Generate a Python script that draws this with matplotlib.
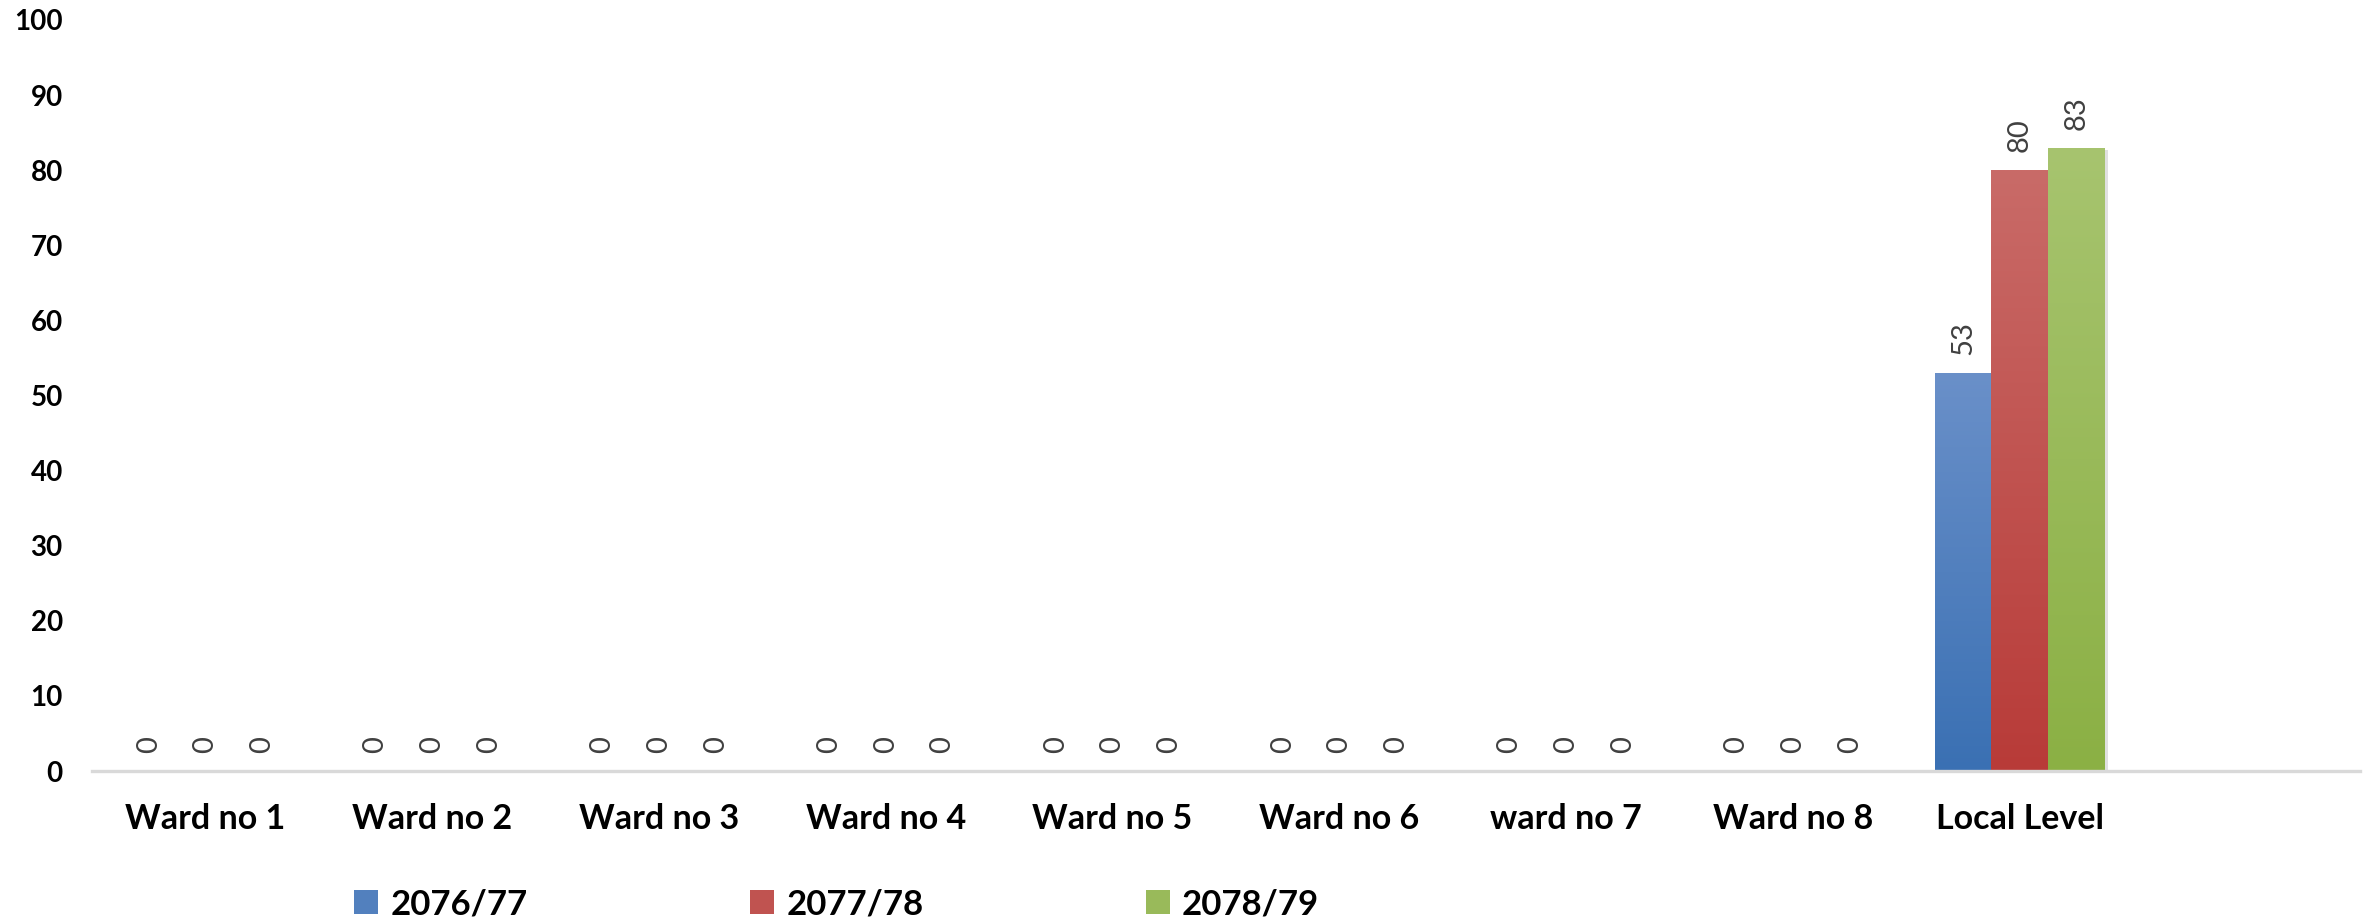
import matplotlib
matplotlib.use("Agg")
import matplotlib.pyplot as plt
import matplotlib.colors as mcolors
from matplotlib.patches import Patch
import numpy as np

categories = ["Ward no 1", "Ward no 2", "Ward no 3", "Ward no 4", "Ward no 5",
              "Ward no 6", "ward no 7", "Ward no 8", "Local Level", ""]
series = ["2076/77", "2077/78", "2078/79"]
v_2076 = [0, 0, 0, 0, 0, 0, 0, 0, 53, None]
v_2077 = [0, 0, 0, 0, 0, 0, 0, 0, 80, None]
v_2078 = [0, 0, 0, 0, 0, 0, 0, 0, 83, None]
yticks = [0, 10, 20, 30, 40, 50, 60, 70, 80, 90, 100]

# top / bottom colour of each bar gradient
grad = [("#6a90c9", "#3a70b3"), ("#c96b68", "#b83b38"), ("#a7c46f", "#8bb044")]

plt.rcParams['font.family'] = ['Lato', 'DejaVu Sans']

fig = plt.figure(figsize=(23.66, 9.23), dpi=100)
ax = fig.add_axes([92/2366, 152/923, (2360-92)/2366, (771-20)/923])

x = np.arange(len(categories))
width = 0.25
all_vals = [v_2076, v_2077, v_2078]

for i, vals in enumerate(all_vals):
    xs = [xx for xx, v in zip(x, vals) if v is not None]
    hs = [v for v in vals if v is not None]
    bars = ax.bar(np.array(xs) + (i-1)*width, hs, width, color=grad[i][1],
                  linewidth=0, zorder=2)
    cmap = mcolors.LinearSegmentedColormap.from_list("g", [grad[i][1], grad[i][0]])
    for b, v in zip(bars, hs):
        if v > 0:
            # soft shadow
            ax.bar(b.get_x() + b.get_width()/2 + 0.012, v, width, bottom=-0.3,
                   color="#000000", alpha=0.12, linewidth=0, zorder=1)
            img = ax.imshow(np.linspace(0, 1, 256).reshape(-1, 1), cmap=cmap,
                            origin="lower", aspect="auto", zorder=3,
                            extent=[b.get_x(), b.get_x()+b.get_width(), 0, v])
            img.set_clip_path(b)
        ax.annotate(str(v), (b.get_x() + b.get_width()/2, v),
                    xytext=(0, 13), textcoords="offset points",
                    rotation=90, ha="center", va="bottom",
                    fontsize=21, color="#404040", zorder=4)

ax.set_xlim(-0.5, len(categories) - 0.5)
ax.set_ylim(0, 100)
ax.set_yticks(yticks)
ax.set_yticklabels([str(t) for t in yticks], fontsize=20, fontweight="bold")
ax.set_xticks(x)
ax.set_xticklabels(categories, fontsize=24.5, fontweight="bold")
ax.tick_params(axis="y", length=0, pad=21)
ax.tick_params(axis="x", length=0, pad=23)

for s in ["top", "right", "left"]:
    ax.spines[s].set_visible(False)
ax.spines["bottom"].set_color("#d9d9d9")
ax.spines["bottom"].set_linewidth(2.4)
ax.spines["bottom"].set_zorder(5)

handles = [Patch(facecolor=mcolors.to_hex(np.mean([mcolors.to_rgb(c) for c in g], axis=0)))
           for g in grad]
fig.legend(handles, series, loc="lower left", bbox_to_anchor=(354/2366, 3/923),
           ncol=3, frameon=False, prop={"size": 25, "weight": "bold"},
           handlelength=0.7, handleheight=0.7, handletextpad=0.35,
           columnspacing=6.4, borderpad=0, borderaxespad=0)

fig.savefig("out.png", dpi=100)
